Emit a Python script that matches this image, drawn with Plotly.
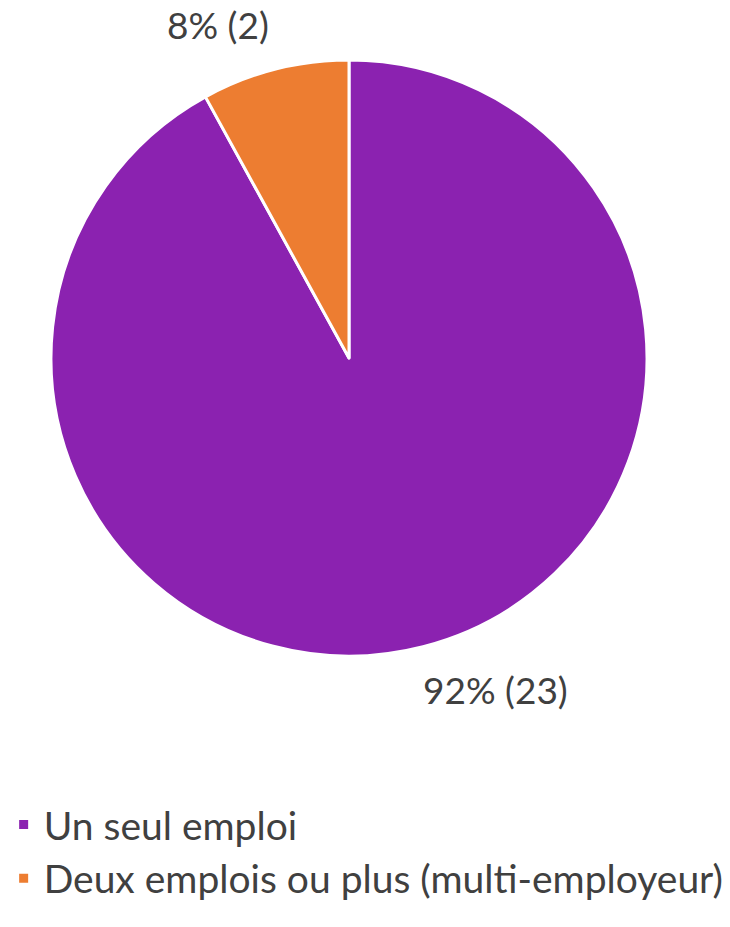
import plotly.graph_objects as go

labels = ["Un seul emploi", "Deux emplois ou plus (multi-employeur)"]
counts = [23, 2]
percents = ["92%", "8%"]
colors = ["#8B22B0", "#ED7D31"]

texts = [f"{p} ({c})" for p, c in zip(percents, counts)]

W, H = 730, 927
fig = go.Figure(go.Pie(
    labels=labels,
    values=counts,
    textinfo="none",
    sort=False,
    direction="clockwise",
    rotation=0,
    marker=dict(colors=colors, line=dict(color="white", width=3)),
    domain=dict(x=[51/W, 647/W], y=[1-656/H, 1-60/H]),
    showlegend=True,
))

# data labels placed outside the slices
label_pos = [(495, 689), (218, 24)]
for t, (px, py) in zip(texts, label_pos):
    fig.add_annotation(
        text=t, x=px/W, y=1-py/H, xref="paper", yref="paper",
        showarrow=False, xanchor="center", yanchor="middle",
        font=dict(size=37, color="#404040", family="Lato"),
        borderpad=0,
    )

fig.update_layout(
    width=W, height=H,
    margin=dict(l=0, r=0, t=0, b=0),
    paper_bgcolor="white",
    font=dict(family="Lato", color="#404040"),
    legend=dict(
        x=0.005, y=0.145, xanchor="left", yanchor="top",
        font=dict(size=39, color="#404040", family="Lato"),
        itemwidth=30,
    ),
)

fig.write_html("out.html", config={"displayModeBar": False},
               post_script="document.body.style.margin='0';")
